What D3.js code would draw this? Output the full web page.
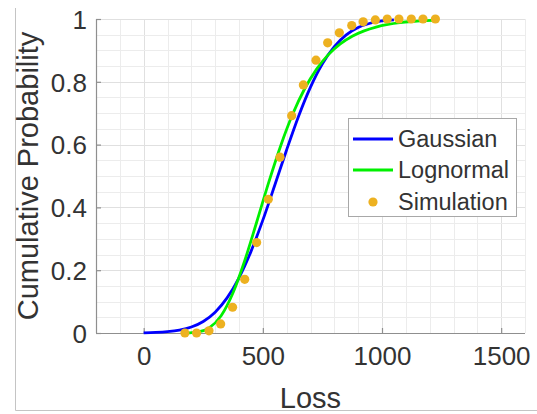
<!DOCTYPE html>
<html>
<head>
<meta charset="utf-8">
<script src="https://cdn.jsdelivr.net/npm/d3@7"></script>
<style>
  html, body { margin: 0; padding: 0; background: #fff; }
  svg { display: block; }
  text { font-family: "Liberation Sans", Arial, Helvetica, sans-serif; fill: #333; }
</style>
</head>
<body>
<svg id="chart" width="537" height="414"></svg>
<script>
// ---- data ----
const xTicks = [0, 500, 1000, 1500];
const yTicks = [0, 0.2, 0.4, 0.6, 0.8, 1];
const yTickLabels = ["0", "0.2", "0.4", "0.6", "0.8", "1"];
const seriesNames = ["Gaussian", "Lognormal", "Simulation"];

const gaussX = [0, 50, 100, 150, 200, 250, 300, 350, 400, 450, 500, 550, 600, 650, 700, 750, 800, 850, 900, 950, 1000, 1050];
const gaussY = [0.0007, 0.0017, 0.0041, 0.0091, 0.0190, 0.0368, 0.0664, 0.1118, 0.1759, 0.2592, 0.3594, 0.4704, 0.5837, 0.6905, 0.7831, 0.8574, 0.9122, 0.9495, 0.9729, 0.9865, 0.9937, 0.9973];

const logX = [175, 225, 275, 325, 375, 425, 475, 525, 575, 625, 675, 725, 775, 825, 875, 925, 975, 1025, 1075, 1125, 1175, 1225];
const logY = [0.0002, 0.0027, 0.0164, 0.0552, 0.1284, 0.2327, 0.3550, 0.4806, 0.5966, 0.6964, 0.7770, 0.8396, 0.8865, 0.9206, 0.9451, 0.9623, 0.9743, 0.9825, 0.9882, 0.9920, 0.9946, 0.9964];

const simX = [173, 222, 274, 323, 373, 424, 474, 523, 572, 621, 670, 723, 772, 821, 873, 921, 972, 1022, 1071, 1123, 1172, 1224];
const simY = [0.0, 0.0, 0.007, 0.029, 0.082, 0.171, 0.288, 0.426, 0.560, 0.692, 0.790, 0.869, 0.924, 0.956, 0.979, 0.991, 0.997, 1.0, 1.0, 1.0, 1.0, 1.0];

// ---- layout ----
const svg = d3.select("#chart");
const L = 96, R = 525, T = 19, B = 333;
const x = d3.scaleLinear().domain([-200, 1600]).range([L, R]);
const y = d3.scaleLinear().domain([0, 1]).range([B, T]);

// outer frame lines (left & bottom)
svg.append("line").attr("x1", 15.5).attr("x2", 15.5).attr("y1", 8).attr("y2", 410.5)
  .attr("stroke", "#c4c4c4").attr("stroke-width", 1);
svg.append("line").attr("x1", 15.5).attr("x2", 537).attr("y1", 410.5).attr("y2", 410.5)
  .attr("stroke", "#c4c4c4").attr("stroke-width", 1);

// grid
const g = svg.append("g");
const minorX = d3.range(-100, 1601, 100);
const minorY = d3.range(0.05, 1.001, 0.05);
g.selectAll(".gx").data(minorX).join("line")
  .attr("x1", d => Math.round(x(d)) + 0.5).attr("x2", d => Math.round(x(d)) + 0.5)
  .attr("y1", T).attr("y2", B)
  .attr("stroke", d => (d % 500 === 0) ? "#e0e0e0" : "#ececec").attr("stroke-width", 1);
g.selectAll(".gy").data(minorY).join("line")
  .attr("y1", d => Math.round(y(d)) + 0.5).attr("y2", d => Math.round(y(d)) + 0.5)
  .attr("x1", L).attr("x2", R)
  .attr("stroke", d => (Math.abs(d * 5 - Math.round(d * 5)) < 1e-6) ? "#e0e0e0" : "#ececec").attr("stroke-width", 1);

// axes
const xAxis = d3.axisBottom(x).tickValues(xTicks).tickSize(-5).tickPadding(14).tickFormat(d3.format("d"));
const yAxis = d3.axisLeft(y).tickValues(yTicks).tickSize(-5).tickPadding(9).tickFormat((d, i) => yTickLabels[i]);

const gx = svg.append("g").attr("transform", `translate(0,${B})`).call(xAxis);
const gy = svg.append("g").attr("transform", `translate(${L},0)`).call(yAxis);
[gx, gy].forEach(ax => {
  ax.select(".domain").attr("stroke", "#8f8f8f").attr("stroke-width", 1.2);
  ax.selectAll(".tick line").attr("stroke", "#8f8f8f").attr("stroke-width", 1.2);
  ax.selectAll(".tick text").attr("font-size", 26).attr("fill", "#333")
    .style("font-family", "'Liberation Sans', Arial, sans-serif");
});
gx.select(".domain").attr("d", `M${L},0.5H${R}`);
gy.select(".domain").attr("d", `M0.5,${B}V${T}`);
gx.selectAll(".tick text").attr("dy", "0.71em");
gy.selectAll(".tick text").attr("dy", "0.36em");

// axis labels
svg.append("text").attr("x", (L + R) / 2).attr("y", 408).attr("text-anchor", "middle")
  .attr("font-size", 29).text("Loss");
svg.append("text").attr("transform", `translate(38,${(T + B) / 2}) rotate(-90)`)
  .attr("text-anchor", "middle").attr("font-size", 29).text("Cumulative Probability");

// curves
const line = d3.line().x(d => x(d[0])).y(d => y(d[1])).curve(d3.curveMonotoneX);
svg.append("path").datum(gaussX.map((v, i) => [v, gaussY[i]]))
  .attr("d", line).attr("fill", "none").attr("stroke", "#0000ff").attr("stroke-width", 2.8);
svg.append("path").datum(logX.map((v, i) => [v, logY[i]]))
  .attr("d", line).attr("fill", "none").attr("stroke", "#00f000").attr("stroke-width", 2.8);

// simulation dots
svg.append("g").selectAll("circle").data(simX.map((v, i) => [v, simY[i]])).join("circle")
  .attr("cx", d => x(d[0])).attr("cy", d => y(d[1])).attr("r", 4.6)
  .attr("fill", "#EDB120");

// legend
const lg = svg.append("g");
lg.append("rect").attr("x", 348.5).attr("y", 118.5).attr("width", 168).attr("height", 98)
  .attr("fill", "#fff").attr("stroke", "#a8a8a8").attr("stroke-width", 1);
const rows = [139, 170, 202];
const colors = ["#0000ff", "#00f000", "#EDB120"];
seriesNames.forEach((name, i) => {
  if (i < 2) {
    lg.append("line").attr("x1", 353).attr("x2", 393).attr("y1", rows[i]).attr("y2", rows[i])
      .attr("stroke", colors[i]).attr("stroke-width", 2.8);
  } else {
    lg.append("circle").attr("cx", 373).attr("cy", rows[i]).attr("r", 4.6).attr("fill", colors[i]);
  }
  lg.append("text").attr("x", 398).attr("y", rows[i]).attr("dy", "0.36em")
    .attr("font-size", 23.5).attr("fill", "#222").text(name);
});
</script>
</body>
</html>
